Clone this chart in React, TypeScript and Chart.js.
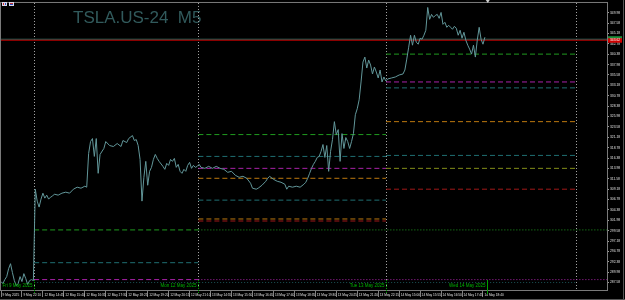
import React, { useEffect, useRef } from "react";
import { Chart, registerables } from "chart.js";

Chart.register(...registerables);

// ---------------- data (bar index, price) ----------------
const TITLE = "TSLA.US-24  M5";

const fridayBars: [number, number][] = [
  [0, 287.8], [1, 287.35], [2, 288.26], [3, 288.95], [4, 290.79], [5, 291.94], [6, 289.87],
  [7, 288.03], [8, 286.88], [9, 287.35], [10, 288.95], [11, 287.8], [12, 289.64], [13, 288.49],
  [14, 287.12], [15, 288.03], [16, 288.26], [17, 288.03],
];

const mondayBars: [number, number][] = [
  [18, 309.17], [19, 306.41], [20, 305.03], [21, 306.87], [22, 308.25], [23, 307.1], [24, 307.79],
  [25, 306.87], [26, 307.33], [27, 307.56], [28, 308.02], [30, 307.79], [32, 308.25], [34, 308.48],
  [36, 308.25], [38, 309.17], [40, 309.63], [42, 309.4], [44, 309.86], [45, 309.63], [46, 317.44],
  [47, 320.19], [48, 320.88], [49, 316.75], [50, 320.88], [51, 312.84], [52, 317.21], [54, 318.59],
  [55, 320.19], [57, 319.27], [59, 319.04], [61, 319.73], [63, 319.04], [64, 320.42], [66, 319.96],
  [67, 320.88], [69, 321.57], [70, 320.42], [71, 320.65], [72, 319.27], [73, 316.06], [74, 306.41],
  [75, 311.92], [76, 315.6], [77, 310.08], [78, 313.3], [79, 314.22], [80, 316.06], [81, 317.21],
  [82, 316.29], [83, 315.6], [85, 314.45], [86, 313.76], [87, 315.14], [88, 314.68], [89, 316.06],
  [90, 315.6], [91, 316.29], [92, 314.22], [93, 314.91], [94, 313.3], [95, 312.84], [96, 313.76],
  [97, 313.3], [98, 314.68], [99, 315.37], [100, 313.99], [101, 314.68], [102, 314.22], [103, 314.45],
];

const tuesdayBars: [number, number][] = [
  [104, 314.91], [105, 314.22], [107, 313.99], [109, 314.45], [111, 313.99], [113, 314.45],
  [115, 313.99], [117, 313.76], [119, 313.07], [121, 313.3], [123, 312.38], [125, 311.92],
  [127, 312.15], [129, 311.69], [131, 310.54], [132, 309.4], [134, 309.17], [135, 309.4],
  [137, 310.08], [139, 311.0], [140, 311.69], [141, 312.15], [143, 311.46], [145, 311.0],
  [147, 310.77], [149, 310.31], [150, 309.17], [151, 309.86], [153, 309.63], [155, 309.86],
  [157, 309.63], [159, 310.31], [160, 310.77], [161, 311.69], [162, 312.84], [163, 313.99],
  [164, 314.91], [165, 315.6], [166, 316.52], [167, 316.75], [168, 317.9], [169, 319.5],
  [170, 316.52], [171, 319.27], [172, 313.3], [173, 317.9], [174, 320.65], [175, 324.79],
  [176, 321.8], [177, 322.95], [178, 315.6], [179, 322.03], [180, 318.59], [181, 321.11],
  [182, 320.19], [183, 318.59], [184, 320.19], [185, 322.03], [186, 326.39], [187, 327.77],
  [188, 329.84], [189, 333.97], [190, 338.57], [191, 339.72], [192, 337.19], [193, 339.03],
  [194, 337.88], [195, 335.81], [196, 337.42], [197, 336.27], [198, 334.89], [199, 336.73],
  [200, 333.97], [201, 335.12],
];

const wednesdayBars: [number, number][] = [
  [202, 334.2], [203, 334.66], [205, 334.89], [207, 335.12], [209, 335.58], [211, 335.81],
  [212, 336.73], [213, 339.26], [214, 342.01], [215, 344.77], [216, 342.47], [217, 344.77],
  [218, 343.16], [219, 342.7], [220, 344.08], [221, 343.85], [222, 344.77], [223, 345.92],
  [224, 351.2], [225, 348.45], [226, 349.59], [227, 348.91], [228, 349.36], [229, 349.59],
  [230, 348.68], [231, 350.05], [232, 347.3], [233, 347.76], [234, 346.61], [235, 347.07],
  [236, 346.61], [237, 346.15], [238, 346.84], [239, 346.38], [240, 344.77], [241, 345.92],
  [242, 344.08], [243, 345.46], [244, 343.62], [245, 342.47], [246, 341.55], [247, 340.41],
  [248, 342.47], [249, 339.72], [250, 343.62], [251, 346.61], [252, 343.85], [253, 342.7],
  [254, 344.31],
];

const bidPrice = 343.62;
const askPrice = 343.85;

const daySeparatorBars = [17.4, 103.6, 202.1, 301.6];
const dayLabelBars = [17.4, 103.6, 202.1, 255];
const dayLabels = ["Fri 9 May 2025", "Mon 12 May 2025", "Tue 13 May 2025", "Wed 14 May 2025"];
const shiftMarkerBar = 255.5;

const mondayLevels = [299.75, 292.17, 288.26];
const mondayLevelKinds = ["green", "teal", "magenta"];
const tuesdayLevels = [321.8, 316.75, 313.99, 311.69, 306.64, 302.28, 301.81];
const tuesdayLevelKinds = ["green", "teal", "magenta", "orange", "teal", "orange", "red"];
const wednesdayLevels = [340.41, 333.97, 332.6, 324.79, 316.98, 313.99, 309.17];
const wednesdayLevelKinds = ["green", "magenta", "teal", "orange", "teal", "olive", "red"];

const carriedLevels = [299.75, 288.26, 287.58];
const carriedLevelKinds = ["green", "magenta", "darkteal"];
const carriedFromBar = [103.6, 103.6, 17.4];
const carriedToBar = [318.1, 318.1, 301.6];

const timeTickBars = [0, 11, 22, 33, 44, 55, 66, 77, 88, 99, 110, 121, 132, 143, 154, 165, 176, 187, 198, 209, 220, 231, 242, 253];
const timeTickLabels = [
  "9 May 2025", "9 May 22:10", "12 May 14:45", "12 May 15:40", "12 May 16:35", "12 May 17:30",
  "12 May 18:25", "12 May 19:20", "12 May 20:15", "12 May 21:10", "13 May 14:55", "13 May 15:50",
  "13 May 16:45", "13 May 17:40", "13 May 18:35", "13 May 19:30", "13 May 20:25", "13 May 21:20",
  "13 May 22:15", "14 May 15:00", "14 May 15:55", "14 May 16:50", "14 May 17:45", "14 May 18:40",
];

const priceTicks = [
  287.58, 289.98, 292.38, 294.78, 297.18, 299.58, 301.98, 304.38, 306.78, 309.18, 311.58, 313.98,
  316.38, 318.78, 321.18, 323.58, 325.98, 328.38, 330.78, 333.18, 335.58, 337.98, 340.38, 342.78,
  345.18, 347.58, 349.98,
];

const xMinBar = 0;
const xMaxBar = 318.1;
const yMin = 285.855;
const yMax = 352.235;

// ---------------- styles ----------------
const levelColor: Record<string, string> = {
  green: "#1f9a1f",
  teal: "#1f6e72",
  darkteal: "#1c5256",
  magenta: "#a822a8",
  orange: "#bd780e",
  red: "#a01818",
  olive: "#838e18",
};
const FONT = '"Liberation Sans", Arial, sans-serif';

function levelSegments(levels: number[], kinds: string[], from: number[] | number, to: number[] | number, dash: number[]) {
  return levels.map((v, i) => ({
    type: "line" as const,
    data: [
      { x: Array.isArray(from) ? from[i] : from, y: v },
      { x: Array.isArray(to) ? to[i] : to, y: v },
    ],
    borderColor: levelColor[kinds[i]],
    borderWidth: 1,
    borderDash: dash,
    pointRadius: 0,
    fill: false,
  }));
}

export default function App() {
  const ref = useRef<HTMLCanvasElement | null>(null);

  useEffect(() => {
    document.body.style.margin = "0";
    document.body.style.background = "#000";
    const canvas = ref.current;
    if (!canvas) return;

    const price = [...fridayBars, ...mondayBars, ...tuesdayBars, ...wednesdayBars].map(([x, y]) => ({ x, y }));

    const datasets: any[] = [
      {
        type: "line",
        data: price,
        borderColor: "#62979a",
        borderWidth: 1,
        pointRadius: 0,
        tension: 0,
        fill: false,
      },
      {
        type: "line",
        data: [{ x: xMinBar, y: bidPrice }, { x: xMaxBar, y: bidPrice }],
        borderColor: "#c00000",
        borderWidth: 1,
        pointRadius: 0,
      },
      {
        type: "line",
        data: [{ x: xMinBar, y: askPrice }, { x: xMaxBar, y: askPrice }],
        borderColor: "#2a6e62",
        borderWidth: 1,
        pointRadius: 0,
      },
      ...levelSegments(mondayLevels, mondayLevelKinds, daySeparatorBars[0], daySeparatorBars[1], [5, 3]),
      ...levelSegments(tuesdayLevels, tuesdayLevelKinds, daySeparatorBars[1], daySeparatorBars[2], [5, 3]),
      ...levelSegments(wednesdayLevels, wednesdayLevelKinds, daySeparatorBars[2], daySeparatorBars[3], [5, 3]),
      ...levelSegments(carriedLevels, carriedLevelKinds, carriedFromBar, carriedToBar, [1, 2]),
    ];

    const mtPlugin = {
      id: "mt",
      beforeDraw(chart: any) {
        const { ctx, width, height } = chart;
        ctx.save();
        ctx.fillStyle = "#000";
        ctx.fillRect(0, 0, width, height);
        ctx.restore();
      },
      beforeDatasetsDraw(chart: any) {
        const { ctx, chartArea: a, scales } = chart;
        const x = scales.x;
        ctx.save();
        ctx.font = `17px ${FONT}`;
        ctx.fillStyle = "#315a5c";
        ctx.textBaseline = "alphabetic";
        ctx.textAlign = "left";
        ctx.fillText(TITLE, 73, 23);
        ctx.strokeStyle = "#a8a8a8";
        ctx.lineWidth = 1;
        ctx.setLineDash([1, 2]);
        daySeparatorBars.forEach((b) => {
          const px = Math.round(x.getPixelForValue(b)) + 0.5;
          ctx.beginPath();
          ctx.moveTo(px, a.top);
          ctx.lineTo(px, a.bottom);
          ctx.stroke();
        });
        ctx.restore();
      },
      afterDraw(chart: any) {
        const { ctx, chartArea: a, scales, width, height } = chart;
        const x = scales.x;
        const y = scales.y;
        ctx.save();
        // frame
        ctx.strokeStyle = "#7a7a7a";
        ctx.lineWidth = 1;
        ctx.setLineDash([]);
        ctx.strokeRect(a.left - 0.5, a.top - 0.5, a.right - a.left + 1, a.bottom - a.top + 1);
        ctx.strokeStyle = "#555";
        ctx.beginPath();
        ctx.moveTo(width - 1.5, 0);
        ctx.lineTo(width - 1.5, height);
        ctx.moveTo(0, height - 0.5);
        ctx.lineTo(width, height - 0.5);
        ctx.stroke();

        // day markers and labels
        ctx.font = `4.5px ${FONT}`;
        ctx.fillStyle = "#00b400";
        ctx.textAlign = "right";
        ctx.textBaseline = "alphabetic";
        dayLabelBars.forEach((b, i) => {
          const px = Math.round(x.getPixelForValue(b)) + 0.5;
          ctx.strokeStyle = "#00a000";
          ctx.setLineDash(i === dayLabelBars.length - 1 ? [] : [1, 1]);
          ctx.beginPath();
          ctx.moveTo(px, a.bottom - 10);
          ctx.lineTo(px, a.bottom + 4);
          ctx.stroke();
          ctx.fillText(dayLabels[i], px - 2, a.bottom - 3);
        });
        ctx.setLineDash([]);

        // ask / bid labels on price axis
        const ay = y.getPixelForValue(askPrice);
        const by = y.getPixelForValue(bidPrice);
        ctx.fillStyle = "#1d8f3a";
        ctx.fillRect(a.right + 1, ay - 3, 14, 4.5);
        ctx.fillStyle = "#d00000";
        ctx.fillRect(a.right + 1, by - 2, 14, 4.5);
        ctx.fillStyle = "#fff";
        ctx.font = `3.3px ${FONT}`;
        ctx.textAlign = "left";
        ctx.textBaseline = "middle";
        ctx.fillText(bidPrice.toFixed(2), a.right + 3, by + 0.3);

        // chart shift marker
        const sx = x.getPixelForValue(shiftMarkerBar);
        ctx.fillStyle = "#cfcfcf";
        ctx.beginPath();
        ctx.moveTo(sx - 2, 0);
        ctx.lineTo(sx + 2, 0);
        ctx.lineTo(sx, 3);
        ctx.closePath();
        ctx.fill();

        // window icons
        ctx.fillStyle = "#d8d8e8";
        ctx.fillRect(2, 2, 5, 4);
        ctx.fillStyle = "#d03030";
        ctx.fillRect(3, 3, 1, 2);
        ctx.fillStyle = "#3050c0";
        ctx.fillRect(5, 3, 1, 2);
        ctx.fillStyle = "#d8d8e8";
        ctx.fillRect(9, 2, 5, 4);
        ctx.fillStyle = "#c03030";
        ctx.fillRect(10, 3, 3, 1);
        ctx.fillStyle = "#3050c0";
        ctx.fillRect(10, 4, 3, 1);
        ctx.restore();
      },
    };

    const chart = new Chart(canvas, {
      type: "line",
      data: { datasets },
      options: {
        animation: false,
        responsive: false,
        devicePixelRatio: 1,
        layout: { padding: { left: 1, top: 1, right: 3, bottom: 1 } },
        plugins: { legend: { display: false }, tooltip: { enabled: false }, title: { display: false } },
        elements: { line: { tension: 0 } },
        scales: {
          x: {
            type: "linear",
            min: xMinBar,
            max: xMaxBar,
            position: "bottom",
            afterFit: (s: any) => {
              s.height = 9;
            },
            afterBuildTicks: (s: any) => {
              s.ticks = timeTickBars.map((v) => ({ value: v }));
            },
            grid: { drawOnChartArea: false, drawTicks: true, tickLength: 7, color: "#808080" },
            border: { display: true, color: "#7a7a7a" },
            ticks: {
              autoSkip: false,
              maxRotation: 0,
              minRotation: 0,
              align: "start",
              labelOffset: 1.5,
              padding: -4,
              color: "#e0e0e0",
              font: { size: 3.2, family: FONT },
              callback: (_v: any, i: number) => timeTickLabels[i],
            },
          },
          y: {
            type: "linear",
            position: "right",
            min: yMin,
            max: yMax,
            afterFit: (s: any) => {
              s.width = 15;
            },
            afterBuildTicks: (s: any) => {
              s.ticks = priceTicks.map((v) => ({ value: v }));
            },
            grid: { drawOnChartArea: false, drawTicks: true, tickLength: 2, color: "#9a9a9a" },
            border: { display: true, color: "#7a7a7a" },
            ticks: {
              autoSkip: false,
              padding: 1,
              color: "#e0e0e0",
              font: { size: 3.3, family: FONT },
              callback: (v: any) => Number(v).toFixed(2),
            },
          },
        },
      },
      plugins: [mtPlugin],
    } as any);

    return () => chart.destroy();
  }, []);

  return (
    <div style={{ position: "fixed", left: 0, top: 0, width: 625, height: 300, background: "#000" }}>
      <canvas ref={ref} width={625} height={300} style={{ display: "block", width: 625, height: 300 }} />
    </div>
  );
}
